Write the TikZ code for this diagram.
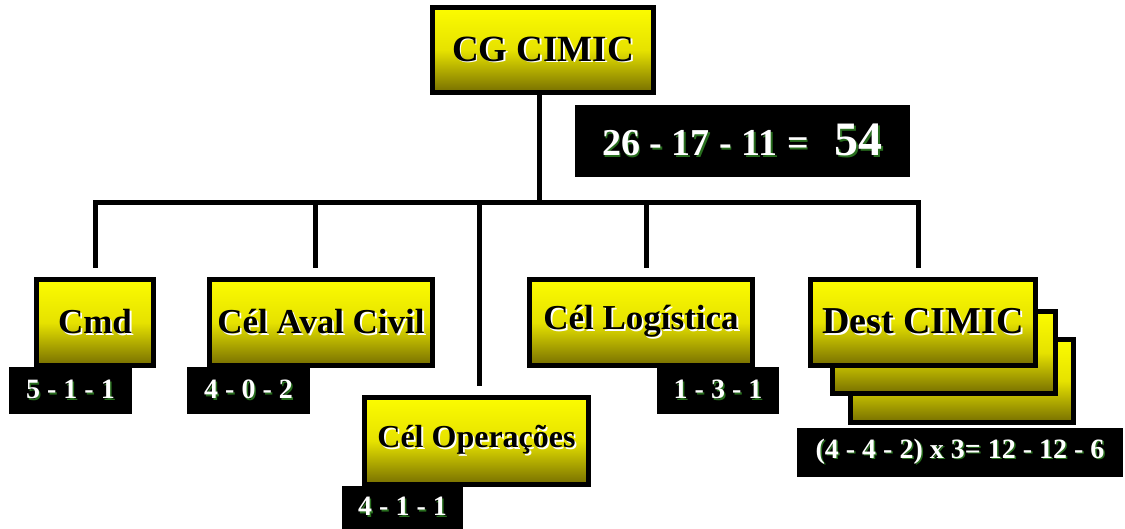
\documentclass[tikz,border=0pt]{standalone}
\usepackage{fontspec}
\setmainfont{Liberation Serif}
\definecolor{ytop}{RGB}{252,252,0}
\definecolor{ymid}{RGB}{230,226,0}
\definecolor{ybot}{RGB}{118,110,0}
\definecolor{glowc}{RGB}{40,110,30}
\newcommand\emb[1]{\makebox[0pt][l]{\hspace{1.8pt}\raisebox{-1.8pt}{\color{white}#1}}#1}
\newcommand\glw[1]{\makebox[0pt][l]{\hspace{1.5pt}\raisebox{-1.5pt}{\color{glowc}#1}}#1}
\begin{document}
\begin{tikzpicture}[x=1pt,y=-1pt,
  ybox/.style={draw=black, line width=5pt, top color=ytop, bottom color=ybot, middle color=ymid,
    inner sep=0pt, font=\fontsize{35}{40}\selectfont\bfseries},
  nbox/.style={fill=black, inner sep=0pt, text=white, font=\fontsize{28}{32}\selectfont\bfseries},
  conn/.style={line width=5pt, line join=miter}]
\fill[white] (0,0) rectangle (1125,529);
\useasboundingbox (0,0) rectangle (1125,529);

% top box
\node[ybox, minimum width=221pt, minimum height=85pt, font=\fontsize{37}{40}\selectfont\bfseries] (cg) at (543,50) {\emb{CG CIMIC}};
\node[nbox, minimum width=335pt, minimum height=72pt] (tot) at (742.5,141)
  {\glw{\fontsize{38}{40}\selectfont 26 - 17 - 11 =}\hspace{26pt}\glw{\fontsize{48}{50}\selectfont 54}};

% children
\node[ybox, minimum width=117pt, minimum height=86pt] (cmd) at (95,322.5) {\emb{Cmd}};
\node[ybox, minimum width=223pt, minimum height=86pt] (aval) at (321,322.5) {\emb{Cél Aval Civil}};
\node[ybox, minimum width=224pt, minimum height=87pt, font=\fontsize{32}{36}\selectfont\bfseries] (op) at (476.5,441) {\emb{Cél Operações}};
\node[ybox, minimum width=223pt, minimum height=86pt] (log) at (641,322.5) {\emb{Cél Logística}};
\node[ybox, minimum width=223pt, minimum height=83pt] (destc) at (962,381) {};
\node[ybox, minimum width=223pt, minimum height=82pt] (destb) at (944,352.5) {};
\node[ybox, minimum width=225pt, minimum height=86pt, font=\fontsize{38}{40}\selectfont\bfseries] (dest) at (923,322.5) {\emb{Dest CIMIC}};

% number labels
\node[nbox, minimum width=123pt, minimum height=47pt] (cmdn) at (70.5,390.5) {\glw{5 - 1 - 1}};
\node[nbox, minimum width=123pt, minimum height=47pt] (avaln) at (248.5,390.5) {\glw{4 - 0 - 2}};
\node[nbox, minimum width=121pt, minimum height=43pt] (opn) at (402.5,507.5) {\glw{4 - 1 - 1}};
\node[nbox, minimum width=122pt, minimum height=47pt] (logn) at (718,390.5) {\glw{1 - 3 - 1}};
\node[nbox, minimum width=326pt, minimum height=49pt] (destn) at (960,452.5) {\glw{(4 - 4 - 2) x 3= 12 - 12 - 6}};

% connectors
\coordinate (bus) at (539,203);
\draw[conn] (cg.south -| bus) -- (bus);
\draw[conn, shorten <=9pt, shorten >=9pt] (cmd.north) |- (bus) -| ([xshift=-5pt]dest.north);
\draw[conn, shorten >=9pt] ([xshift=-6pt]aval.north |- bus) -- ([xshift=-6pt]aval.north);
\draw[conn, shorten >=9pt] ([xshift=2.5pt]op.north |- bus) -- ([xshift=2.5pt]op.north);
\draw[conn, shorten >=9pt] ([xshift=5pt]log.north |- bus) -- ([xshift=5pt]log.north);
\end{tikzpicture}
\end{document}
